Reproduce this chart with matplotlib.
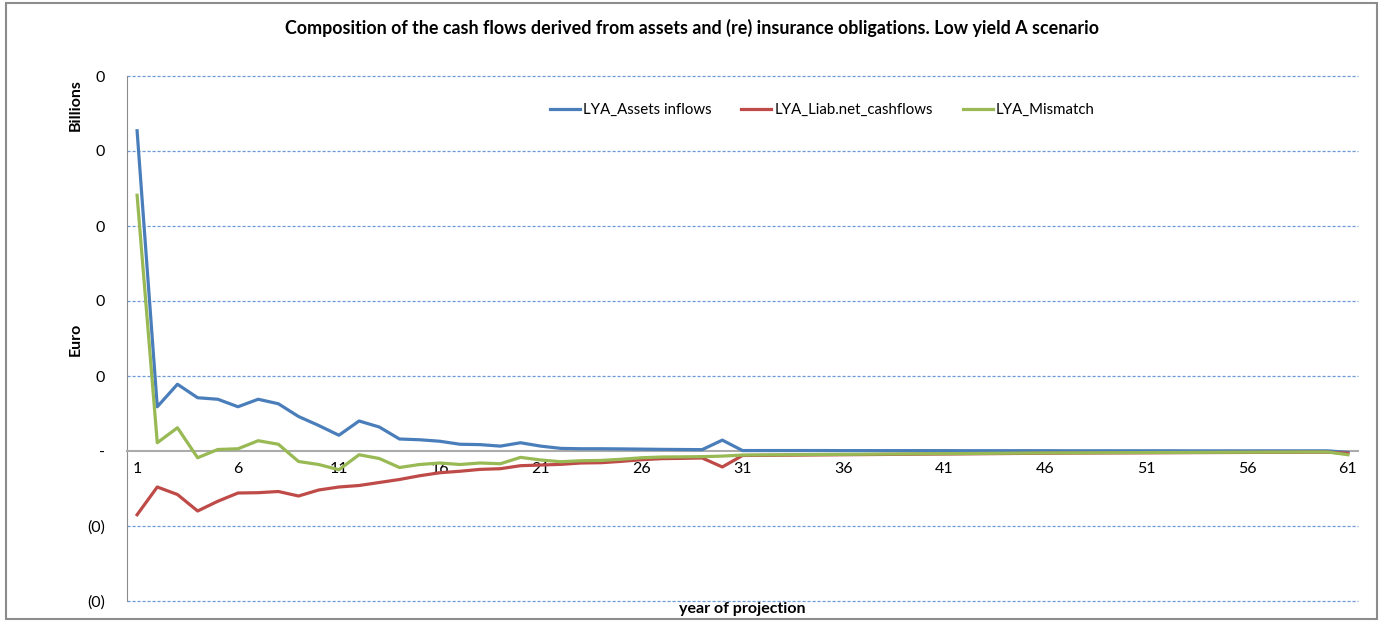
import matplotlib
matplotlib.use("Agg")
import matplotlib.pyplot as plt
from matplotlib.patches import Rectangle
from matplotlib.ticker import FuncFormatter

plt.rcParams['font.family'] = ['Lato', 'DejaVu Sans']

# year of projection
years = list(range(1, 62))

# values in billions of euro
assets_inflows = [
    0.427, 0.059, 0.089, 0.071, 0.069, 0.059, 0.069, 0.063, 0.046, 0.034,
    0.021, 0.040, 0.032, 0.016, 0.015, 0.013, 0.009, 0.0085, 0.0065, 0.011,
    0.0065, 0.0035, 0.003, 0.003, 0.0028, 0.0025, 0.0022, 0.002, 0.0018, 0.0145,
    0.0006, 0.0006, 0.0006, 0.0006, 0.0006, 0.0005, 0.0005, 0.0005, 0.0005, 0.0005,
    0.0005, 0.0004, 0.0004, 0.0004, 0.0004, 0.0004, 0.0003, 0.0003, 0.0003, 0.0003,
    0.0003, 0.0003, 0.0002, 0.0002, 0.0002, 0.0002, 0.0002, 0.0002, 0.0002, 0.0002,
    -0.002,
]
liab_net_cashflows = [
    -0.085, -0.048, -0.058, -0.080, -0.067, -0.056, -0.0556, -0.054, -0.060, -0.052,
    -0.048, -0.046, -0.042, -0.038, -0.033, -0.029, -0.027, -0.0245, -0.0236, -0.0196,
    -0.0187, -0.0178, -0.016, -0.0156, -0.0138, -0.0116, -0.0102, -0.0098, -0.0093, -0.0213,
    -0.006, -0.0058, -0.0056, -0.0054, -0.0052, -0.005, -0.0048, -0.0046, -0.0044, -0.0042,
    -0.004, -0.0038, -0.0036, -0.0034, -0.0032, -0.003, -0.0028, -0.0027, -0.0026, -0.0025,
    -0.0024, -0.0023, -0.0022, -0.0021, -0.002, -0.0019, -0.0018, -0.0017, -0.0016, -0.0016,
    -0.003,
]
mismatch = [
    0.341, 0.011, 0.031, -0.009, 0.002, 0.003, 0.0137, 0.009, -0.014, -0.018,
    -0.025, -0.005, -0.010, -0.022, -0.018, -0.016, -0.018, -0.016, -0.017, -0.0085,
    -0.012, -0.0143, -0.013, -0.0126, -0.011, -0.009, -0.008, -0.0078, -0.0075, -0.0068,
    -0.0054, -0.0052, -0.005, -0.0048, -0.0046, -0.0045, -0.0043, -0.0041, -0.0039, -0.0037,
    -0.0035, -0.0034, -0.0032, -0.003, -0.0028, -0.0026, -0.0025, -0.0024, -0.0023, -0.0022,
    -0.0021, -0.002, -0.0019, -0.0018, -0.0017, -0.0016, -0.0015, -0.0014, -0.0013, -0.0013,
    -0.005,
]

series_names = ['LYA_Assets inflows', 'LYA_Liab.net_cashflows', 'LYA_Mismatch']
series_colors = ['#4A7EBB', '#BE4B48', '#98B954']

fig = plt.figure(figsize=(13.81, 6.22), dpi=100)
ax = fig.add_axes([127 / 1381, 21 / 622, 1231 / 1381, 525 / 622])

# outer chart border
fig.patches.append(Rectangle((6 / 1381, 3 / 622), 1371 / 1381, 616 / 622,
                             transform=fig.transFigure, fill=False,
                             edgecolor='#8C8C8C', linewidth=1.5))

for vals, name, col in zip([assets_inflows, liab_net_cashflows, mismatch],
                           series_names, series_colors):
    ax.plot(years, vals, color=col, linewidth=2.3, label=name, zorder=3)

ax.set_xlim(0.5, 61.5)
ax.set_ylim(-0.2, 0.5)
ax.set_yticks([-0.2, -0.1, 0.0, 0.1, 0.2, 0.3, 0.4, 0.5])

def fmt(v, pos):
    if abs(v) < 1e-9:
        return '-'
    s = f"{abs(v):.0f}"
    return f"({s})" if v < 0 else s

ax.yaxis.set_major_formatter(FuncFormatter(fmt))
ax.set_xticks(years[::5])
ax.set_xticklabels([str(y) for y in years[::5]])

for v in [-0.2, -0.1, 0.1, 0.2, 0.3, 0.4, 0.5]:
    ax.axhline(v, color='#6F9AD6', linewidth=0.9, linestyle=(0, (2.5, 1.5)),
               zorder=1, clip_on=False)

for s in ['top', 'right']:
    ax.spines[s].set_visible(False)
ax.spines['left'].set_color('#8C8C8C')
ax.spines['bottom'].set_position(('data', 0))
ax.spines['bottom'].set_color('#ABABAB')
ax.spines['bottom'].set_linewidth(1.5)
ax.tick_params(axis='both', length=0, labelsize=11.5)
ax.tick_params(axis='x', pad=8)
ax.tick_params(axis='y', pad=16)

ax.legend(loc='center', bbox_to_anchor=(0.5646, 0.935), ncol=3, frameon=False,
          fontsize=10.8, handlelength=2.0, handletextpad=0.2, columnspacing=2.0)

fig.text(692 / 1381, 1 - 28 / 622, 'Composition of the cash flows derived from assets and (re) insurance obligations. Low yield A scenario',
         ha='center', va='center', fontsize=12.9, fontweight='bold')
fig.text(76 / 1381, 1 - 105 / 622, 'Billions', rotation=90, ha='center', va='center',
         fontsize=11.5, fontweight='bold')
fig.text(76 / 1381, 1 - 339 / 622, 'Euro', rotation=90, ha='center', va='center',
         fontsize=11.5, fontweight='bold')
fig.text(742 / 1381, 1 - 609 / 622, 'year of projection', ha='center', va='center',
         fontsize=11.5, fontweight='bold')

fig.savefig('out.png', dpi=100)
